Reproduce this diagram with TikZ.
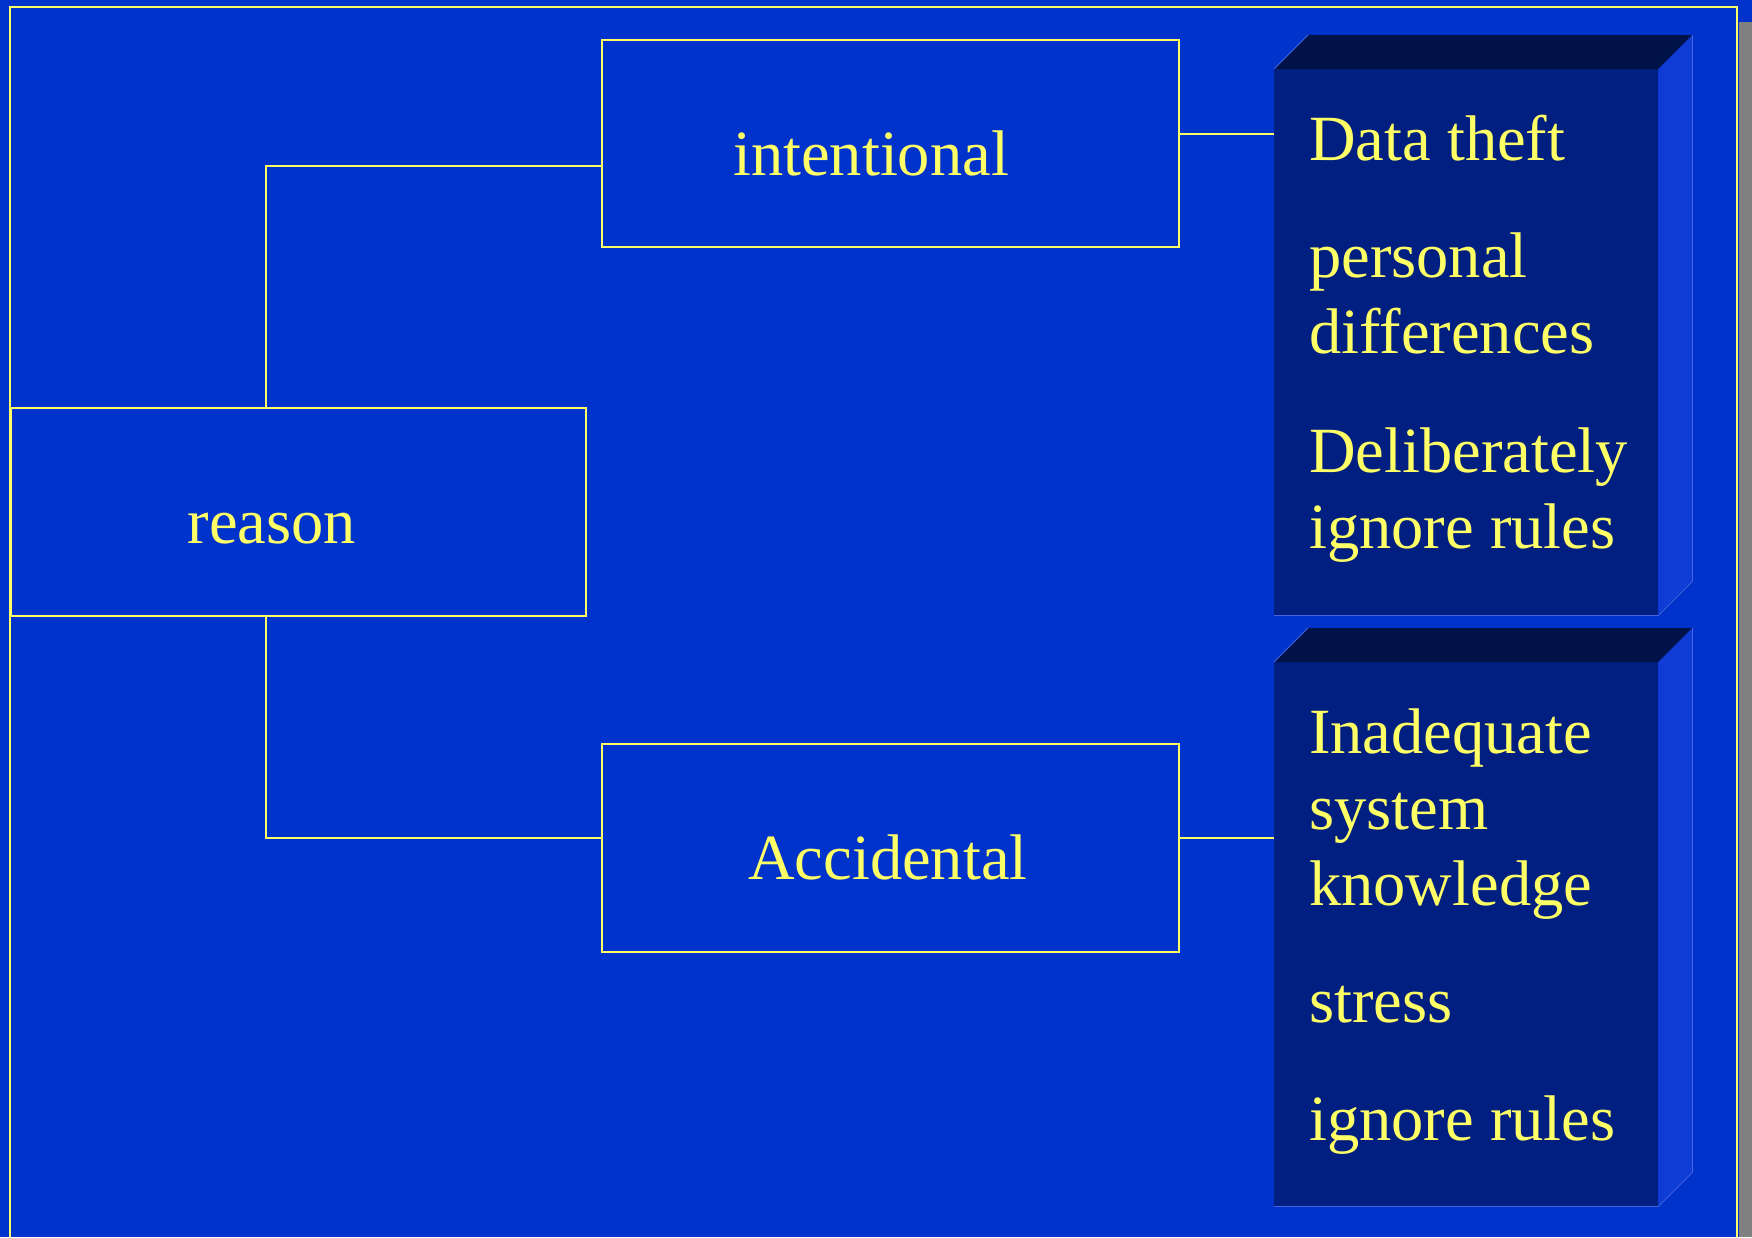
\documentclass[tikz,border=0pt]{standalone}
\usepackage{fontspec}
\setmainfont{Liberation Serif}
\usetikzlibrary{calc}

\definecolor{slidebg}{RGB}{0,51,204}
\definecolor{ink}{RGB}{255,255,102}
\definecolor{facefront}{RGB}{0,31,128}
\definecolor{facetop}{RGB}{0,18,72}
\definecolor{faceside}{RGB}{14,60,212}
\definecolor{faceedge}{RGB}{70,100,220}
\definecolor{sidebar}{RGB}{128,128,128}

\begin{document}
% one unit = 1pt, y grows downwards
\begin{tikzpicture}[x=1pt,y=-1pt,
  wire/.style={draw=ink,line width=2pt},
  labelbox/.style={draw=ink,line width=2pt,inner sep=0pt,anchor=north west},
  big/.style={text=ink,font=\fontsize{64.5}{76}\selectfont,inner sep=0pt},
  listline/.style={big,anchor=base west},
  front/.style={fill=facefront,inner sep=0pt,anchor=north west,
                minimum width=384pt,minimum height=#1},
]
\fill[slidebg] (0,0) rectangle (1752,1237);
\useasboundingbox (0,0) rectangle (1752,1237);
\fill[sidebar] (1739,22) rectangle (1752,1237);
\draw[wire] (10,1237) -- (10,7) -- (1737,7) -- (1737,1237);

% outlined label boxes
\node[labelbox,minimum width=575pt,minimum height=208pt] (reason) at (10,407) {};
\node[labelbox,minimum width=577pt,minimum height=207pt] (intent) at (601,39) {};
\node[labelbox,minimum width=577pt,minimum height=208pt] (accid) at (601,743) {};
\node[big,anchor=base] (reasontxt) at (272,543) {reason};
\node[big,anchor=base] (intenttxt) at (871,175) {intentional};
\node[big,anchor=base] (accidtxt) at (888,879) {Accidental};

% solid list blocks with a top and a side face
\node[front=546pt] (box1) at (1274,69) {};
\node[front=544pt] (box2) at (1274,662) {};
\foreach \b in {box1,box2}{
  \fill[facetop] (\b.north west) -- ++(34,-34) -- ($(\b.north east)+(34,-34)$)
    -- (\b.north east) -- cycle;
  \fill[faceside] (\b.north east) -- ++(34,-34) -- ($(\b.south east)+(34,-34)$)
    -- (\b.south east) -- cycle;
  \draw[faceedge,line width=0.8pt] (\b.north west) -- ++(34,-34);
  \draw[faceedge,line width=0.8pt] ($(\b.north east)+(34,-34)$)
    -- ($(\b.south east)+(34,-34)$) -- (\b.south east) -- (\b.south west);
}

% connectors
\draw[wire] (reason.north -| 266,0) |- (intent.west |- 0,166);
\draw[wire] (reason.south -| 266,0) |- (accid.west |- 0,838);
\draw[wire] (intent.east |- 0,134) -- (box1.west |- 0,134);
\draw[wire] (accid.east |- 0,838) -- (box2.west |- 0,838);

% list texts
\node[listline] (l1) at (1309,160) {Data theft};
\node[listline] (l2) at (1309,277) {personal};
\node[listline] (l3) at (1309,353) {differences};
\node[listline] (l4) at (1309,472) {Deliberately};
\node[listline] (l5) at (1309,548) {ignore rules};
\node[listline] (m1) at (1309,753) {Inadequate};
\node[listline] (m2) at (1309,829) {system};
\node[listline] (m3) at (1309,905) {knowledge};
\node[listline] (m4) at (1309,1022) {stress};
\node[listline] (m5) at (1309,1140) {ignore rules};
\end{tikzpicture}
\end{document}
